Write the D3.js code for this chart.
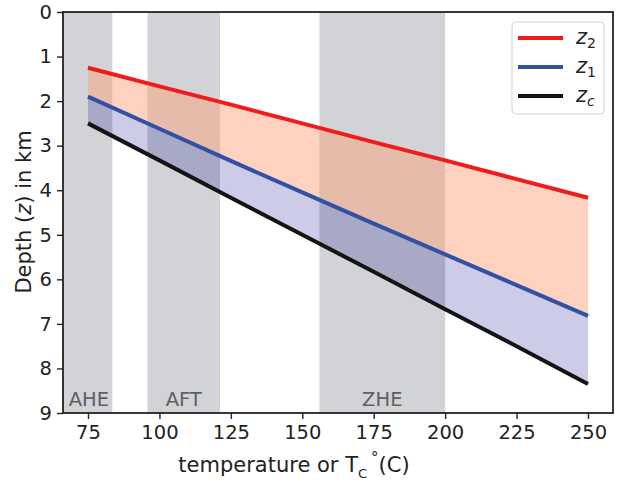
<!DOCTYPE html>
<html>
<head>
<meta charset="utf-8">
<script src="https://cdn.jsdelivr.net/npm/d3@7/dist/d3.min.js"></script>
<style>
  html, body { margin: 0; padding: 0; background: #fff; }
  svg { display: block; }
  text { font-family: "DejaVu Sans", sans-serif; }
</style>
</head>
<body>
<svg id="chart" width="622" height="486"></svg>
<script>
// Temperature (°C) at which depths are evaluated
const temperature = [75, 100, 125, 150, 175, 200, 225, 250];
// Depths in km
const z2 = [1.25, 1.67, 2.08, 2.50, 2.92, 3.33, 3.75, 4.17];
const z1 = [1.90, 2.62, 3.34, 4.05, 4.75, 5.44, 6.13, 6.82];
const zc = [2.50, 3.33, 4.17, 5.00, 5.83, 6.67, 7.50, 8.35];

// Closure-temperature windows
const bandNames = ["AHE", "AFT", "ZHE"];
const bandStart = [55, 95.8, 156];
const bandEnd = [83.5, 121.2, 200];
const bandLabelAt = [75.3, 108.5, 178];

const xTicks = [75, 100, 125, 150, 175, 200, 225, 250];
const yTicks = [0, 1, 2, 3, 4, 5, 6, 7, 8, 9];

const svg = d3.select("#chart");
const L = 63, R = 613, T = 12, B = 413;

const x = d3.scaleLinear().domain([66.25, 258.75]).range([L, R]);
const y = d3.scaleLinear().domain([0, 9]).range([T, B]);

const rows = temperature.map((t, i) => ({ t, z2: z2[i], z1: z1[i], zc: zc[i] }));

svg.append("clipPath").attr("id", "plot-clip")
  .append("rect").attr("x", L).attr("y", T).attr("width", R - L).attr("height", B - T);

const plot = svg.append("g").attr("clip-path", "url(#plot-clip)");

// grey windows
plot.selectAll("rect.band").data(bandNames).join("rect")
  .attr("class", "band")
  .attr("x", (d, i) => x(bandStart[i]))
  .attr("width", (d, i) => x(bandEnd[i]) - x(bandStart[i]))
  .attr("y", T).attr("height", B - T)
  .attr("fill", "#d2d3d6");

// shaded areas between the curves
plot.append("path").datum(rows)
  .attr("d", d3.area().x(d => x(d.t)).y0(d => y(d.z2)).y1(d => y(d.z1)))
  .attr("fill", "lightsalmon").attr("fill-opacity", 0.47);
plot.append("path").datum(rows)
  .attr("d", d3.area().x(d => x(d.t)).y0(d => y(d.z1)).y1(d => y(d.zc)))
  .attr("fill", "darkblue").attr("fill-opacity", 0.2);

// window labels
plot.selectAll("text.band-label").data(bandNames).join("text")
  .attr("class", "band-label")
  .attr("x", (d, i) => x(bandLabelAt[i]))
  .attr("y", 406)
  .attr("text-anchor", "middle")
  .attr("font-size", 19.5)
  .attr("fill", "#606060")
  .text(d => d);

// curves
const series = [
  { key: "z2", color: "#ee1c1c", sub: "2" },
  { key: "z1", color: "#3350a3", sub: "1" },
  { key: "zc", color: "#141414", sub: "c" }
];
series.forEach(s => {
  plot.append("path").datum(rows)
    .attr("d", d3.line().x(d => x(d.t)).y(d => y(d[s.key])))
    .attr("fill", "none").attr("stroke", s.color).attr("stroke-width", 4);
});

// axes
const xAxis = svg.append("g").attr("transform", `translate(0,${B})`)
  .call(d3.axisBottom(x).tickValues(xTicks).tickSize(6).tickPadding(6));
const yAxis = svg.append("g").attr("transform", `translate(${L},0)`)
  .call(d3.axisLeft(y).tickValues(yTicks).tickSize(6).tickPadding(5));
[xAxis, yAxis].forEach(a => {
  a.select(".domain").remove();
  a.selectAll(".tick line").attr("stroke", "#222").attr("stroke-width", 1.4);
  a.selectAll(".tick text").attr("font-size", 19.5).attr("fill", "#222")
    .attr("font-family", "DejaVu Sans, sans-serif");
});

// frame
svg.append("rect").attr("x", L).attr("y", T).attr("width", R - L).attr("height", B - T)
  .attr("fill", "none").attr("stroke", "#222").attr("stroke-width", 1.8);

// axis titles
const yl = svg.append("text")
  .attr("transform", `translate(31,212) rotate(-90)`)
  .attr("text-anchor", "middle").attr("font-size", 21).attr("fill", "#222");
yl.append("tspan").text("Depth (");
yl.append("tspan").attr("font-style", "italic").text("z");
yl.append("tspan").text(") in km");

const xl = svg.append("text")
  .attr("x", 294).attr("y", 472)
  .attr("font-size", 21).attr("fill", "#222")
  .attr("text-anchor", "middle")
  .attr("font-family", "Liberation Sans, Arial, sans-serif");
xl.append("tspan").text("temperature or T");
xl.append("tspan").attr("font-size", 13).attr("dy", 6).text("C");
xl.append("tspan").attr("font-size", 15).attr("dy", -15).attr("dx", 4).text("°");
xl.append("tspan").attr("dy", 9).text("(C)");

// legend
const lg = svg.append("g");
lg.append("rect").attr("x", 512).attr("y", 22).attr("width", 92).attr("height", 92)
  .attr("rx", 4).attr("fill", "#fff").attr("fill-opacity", 0.85)
  .attr("stroke", "#d0d0d0").attr("stroke-width", 1);
series.forEach((s, i) => {
  const yy = 38 + i * 29;
  lg.append("line").attr("x1", 518).attr("x2", 563).attr("y1", yy).attr("y2", yy)
    .attr("stroke", s.color).attr("stroke-width", 4);
  const t = lg.append("text").attr("x", 576).attr("y", yy + 6)
    .attr("font-size", 21).attr("fill", "#222");
  t.append("tspan").attr("font-style", "italic").text("z");
  t.append("tspan").attr("font-size", 14).attr("dy", 4)
    .attr("font-style", s.sub === "c" ? "italic" : "normal").text(s.sub);
});
</script>
</body>
</html>
